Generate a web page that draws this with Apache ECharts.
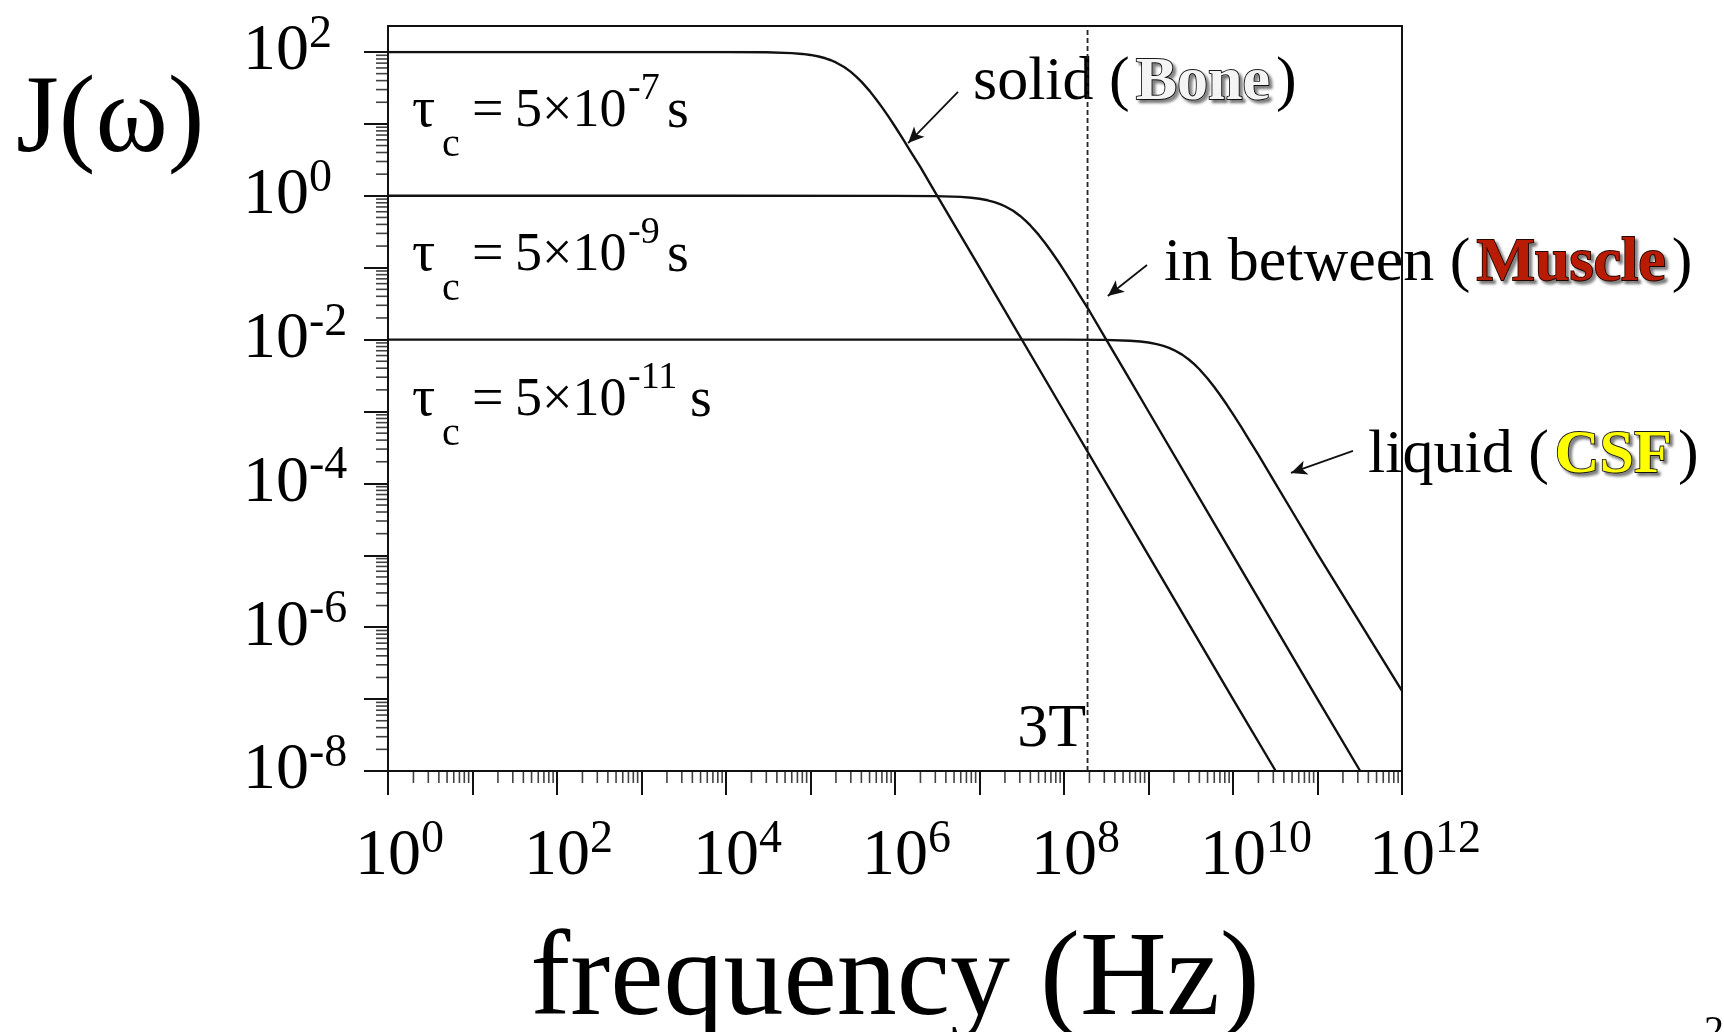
<!DOCTYPE html>
<html><head><meta charset="utf-8">
<script src="https://cdn.jsdelivr.net/npm/echarts@6/dist/echarts.min.js"></script>
<style>html,body{margin:0;padding:0;background:#fff}#c{width:1724px;height:1032px}</style>
</head><body><div id="c"></div>
<script>
// ---- data: [frequency (Hz), J(omega)] ----
const boneCurve = [[1,100],[1e2,100],[1e4,99.9],[3e4,99.1],[6e4,96.6],[8e4,94.0],[1e5,91],[1.25e5,86.6],[1.5e5,81.8],[1.75e5,76.8],[2e5,71.6],[2.5e5,61.8],[3e5,52.9],[3.5e5,45.2],[4e5,38.7],[5e5,28.8],[6e5,21.9],[7e5,17.1],[8.5e5,12.3],[1e6,9.2],[1.25e6,6.1],[1.5e6,4.3],[2e6,2.5],[3e6,1.11],[5e6,0.40],[1e7,0.101],[1e8,1.0e-3],[1e9,1.0e-5],[1e10,1.0e-7],[3.2e10,1.0e-8]];
const muscleCurve = [[1,1],[1e4,1],[1e6,0.999],[3e6,0.991],[6e6,0.966],[8e6,0.940],[1e7,0.91],[1.25e7,0.866],[1.5e7,0.818],[1.75e7,0.768],[2e7,0.716],[2.5e7,0.618],[3e7,0.529],[3.5e7,0.452],[4e7,0.387],[5e7,0.288],[6e7,0.219],[7e7,0.171],[8.5e7,0.123],[1e8,0.092],[1.25e8,0.061],[1.5e8,0.043],[2e8,0.025],[3e8,0.0111],[5e8,0.0040],[1e9,1.0e-3],[1e10,1.0e-5],[1e11,1.0e-7],[3.2e11,1.0e-8]];
const csfCurve = [[1,0.01],[1e6,0.01],[1e8,0.00999],[3e8,0.00991],[6e8,0.00966],[8e8,0.00940],[1e9,0.0091],[1.25e9,0.00866],[1.5e9,0.00818],[1.75e9,0.00768],[2e9,0.00716],[2.5e9,0.00618],[3e9,0.00529],[3.5e9,0.00452],[4e9,0.00387],[5e9,0.00288],[6e9,0.00219],[7e9,0.00171],[8.5e9,0.00123],[1e10,9.2e-4],[1.25e10,6.1e-4],[1.5e10,4.3e-4],[2e10,2.5e-4],[3e10,1.12e-4],[5e10,4.1e-5],[1e11,1.05e-5],[1e12,1.3e-7]];
const threeTeslaFreq = 1.9e8;
const arrowBone = [[5.57e6, 27.8], [1.43e6, 5.42]];
const arrowMuscle = [[9.6e8, 0.109], [3.3e8, 0.0404]];
const arrowCsf = [[2.63e11, 2.83e-4], [4.85e10, 1.40e-4]];
// ---- axes / tick labels ----
const xLabelExponents = [0, 2, 4, 6, 8, 10, 12];
const yLabelExponents = [-8, -6, -4, -2, 0, 2];
const xMinorDecades = [0,1,2,3,4,5,6,7,8,9,10,11];
const yMinorDecades = [-8,-7,-6,-5,-4,-3,-2,-1,0,1];
const minorMultipliers = [2,3,4,5,6,7,8,9];
const tauExponents = ['-7', '-9', '-11'];

const FONT = '"Liberation Serif", "Times New Roman", serif';
const INK = '#111';

const xMinor = [], yMinor = [];
xMinorDecades.forEach(d => minorMultipliers.forEach(k => xMinor.push([k * Math.pow(10, d), 1e-8])));
yMinorDecades.forEach(d => minorMultipliers.forEach(k => yMinor.push([1, k * Math.pow(10, d)])));

function expOf(v) { return Math.round(Math.log10(v)); }
const tickRich = {
  b1: {fontSize: 66, fontFamily: FONT, color: '#000', lineHeight: 80, padding: [0, 0, 0, 23]},
  b2: {fontSize: 66, fontFamily: FONT, color: '#000', lineHeight: 80, padding: [0, 0, 0, 46]},
  y:  {fontSize: 66, fontFamily: FONT, color: '#000', lineHeight: 80},
  s:  {fontSize: 46, fontFamily: FONT, color: '#000', lineHeight: 30, verticalAlign: 'top'}
};

const chart = echarts.init(document.getElementById('c'), null, {renderer: 'canvas'});

function txt(x, y, text, size, align) {
  return {type: 'text', x: x, y: y, z: 50, silent: true,
    style: {text: text, fontSize: size, fontFamily: FONT, fill: '#000', align: align || 'left', verticalAlign: 'middle'}};
}
// tau labels: baseline -> middle offset ~0.29 em
function tauLabel(baseline, sup, sX) {
  return [
    txt(412, baseline - 17, 'τ', 58),
    txt(442, baseline + 29 - 12, 'c', 40),
    txt(472, baseline - 16, '=', 56),
    txt(515, baseline - 16, '5×10', 54),
    txt(628, baseline - 28 - 11, sup, 38),
    txt(sX, baseline - 16, 's', 56)
  ];
}
const annNormal = {fontSize: 62, fontFamily: FONT, fill: '#000', lineHeight: 70};
function fancy(fill, stroke) {
  return {fontSize: 62, fontFamily: FONT, fontWeight: 'bold', fill: fill, stroke: stroke, lineWidth: 1.8,
    textShadowColor: 'rgba(0,0,0,0.45)', textShadowBlur: 3, textShadowOffsetX: 3, textShadowOffsetY: 3,
    lineHeight: 70, padding: [0, 6, 0, 6]};
}

const option = {
  animation: false,
  backgroundColor: '#fff',
  grid: [
    {left: 388, top: 26, width: 1014, height: 745, show: true, borderColor: INK, borderWidth: 2, backgroundColor: 'transparent'},
    {left: 388, top: 52, width: 1014, height: 719}
  ],
  xAxis: [
    {type: 'log', gridIndex: 0, min: 1, max: 1e12, show: false},
    {type: 'log', gridIndex: 1, min: 1, max: 1e12, logBase: 10, interval: 1,
      axisLine: {show: true, lineStyle: {color: INK, width: 2}},
      axisTick: {show: true, length: 24, lineStyle: {color: INK, width: 2}},
      minorTick: {show: false}, splitLine: {show: false},
      axisLabel: {margin: 46, formatter: v => {
        const e = expOf(v);
        if (xLabelExponents.indexOf(e) < 0) return '';
        const s = String(e);
        return '{' + (s.length > 1 ? 'b2' : 'b1') + '|10}{s|' + s + '}';
      }, rich: tickRich}
    }
  ],
  yAxis: [
    {type: 'value', gridIndex: 0, min: 0, max: 1, show: false},
    {type: 'log', gridIndex: 1, min: 1e-8, max: 100, logBase: 10, interval: 1,
      axisLine: {show: true, onZero: false, lineStyle: {color: INK, width: 2}},
      axisTick: {show: true, length: 24, lineStyle: {color: INK, width: 2}},
      minorTick: {show: false}, splitLine: {show: false},
      axisLabel: {align: 'left', margin: 145, formatter: v => {
        const e = expOf(v);
        if (yLabelExponents.indexOf(e) < 0) return '';
        return '{y|10}{s|' + e + '}';
      }, rich: tickRich}
    }
  ],
  series: [
    {type: 'line', name: '3T', xAxisIndex: 0, yAxisIndex: 0, data: [[threeTeslaFreq, 0], [threeTeslaFreq, 1]],
      symbol: 'none', lineStyle: {color: '#222', width: 1.8, type: [5, 3]}, silent: true},
    {type: 'line', name: 'Bone', xAxisIndex: 1, yAxisIndex: 1, data: boneCurve, symbol: 'none',
      lineStyle: {color: INK, width: 2.4, join: 'round'}, silent: true,
      markLine: {silent: true, animation: false, symbol: ['none', 'arrow'], symbolSize: [11, 16],
        label: {show: false}, lineStyle: {color: INK, width: 1.8, type: 'solid'},
        data: [
          [{coord: arrowBone[0]}, {coord: arrowBone[1]}],
          [{coord: arrowMuscle[0]}, {coord: arrowMuscle[1]}],
          [{coord: arrowCsf[0]}, {coord: arrowCsf[1]}]
        ]}},
    {type: 'line', name: 'Muscle', xAxisIndex: 1, yAxisIndex: 1, data: muscleCurve, symbol: 'none',
      lineStyle: {color: INK, width: 2.4, join: 'round'}, silent: true},
    {type: 'line', name: 'CSF', xAxisIndex: 1, yAxisIndex: 1, data: csfCurve, symbol: 'none',
      lineStyle: {color: INK, width: 2.4, join: 'round'}, silent: true},
    {type: 'scatter', name: 'xMinor', xAxisIndex: 1, yAxisIndex: 1, data: xMinor, clip: false, silent: true,
      symbol: 'rect', symbolSize: [1.6, 12], symbolOffset: [0, 6], itemStyle: {color: INK}},
    {type: 'scatter', name: 'yMinor', xAxisIndex: 1, yAxisIndex: 1, data: yMinor, clip: false, silent: true,
      symbol: 'rect', symbolSize: [12, 1.6], symbolOffset: [-6, 0], itemStyle: {color: INK}}
  ],
  graphic: [
    txt(16, 122, 'J(ω)', 110),
    txt(895, 982, 'frequency (Hz)', 120, 'center'),
    ...tauLabel(128, tauExponents[0], 667),
    ...tauLabel(272, tauExponents[1], 667),
    ...tauLabel(417, tauExponents[2], 690),
    txt(1086, 748 - 18, '3T', 62, 'right'),
    {type: 'text', x: 973, y: 83, style: {text: '{n|solid (}{f|Bone}{n|)}', align: 'left', verticalAlign: 'middle',
      rich: {n: annNormal, f: fancy('#f4f4f4', '#1a1a1a')}}},
    {type: 'text', x: 1164, y: 264, style: {text: '{n|in between (}{f|Muscle}{n|)}', align: 'left', verticalAlign: 'middle',
      rich: {n: annNormal, f: fancy('#b81c04', '#2a0800')}}},
    {type: 'text', x: 1368, y: 456, style: {text: '{n|liquid (}{f|CSF}{n|)}', align: 'left', verticalAlign: 'middle',
      rich: {n: annNormal, f: fancy('#ffff00', '#1a1a1a')}}},
    {type: 'text', x: 1704, y: 1012, style: {text: '2', fontSize: 40, fontFamily: FONT, fill: '#000', align: 'left', verticalAlign: 'top'}}
  ]
};
chart.setOption(option);
</script>
</body></html>
